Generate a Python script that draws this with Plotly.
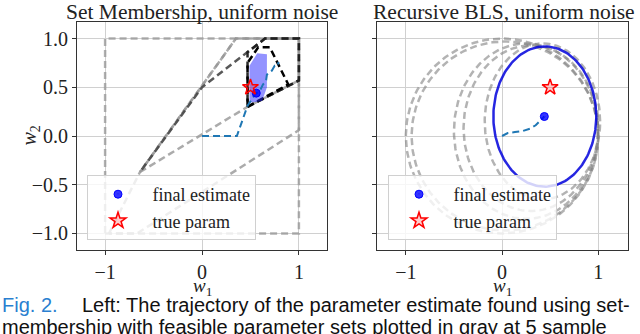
import numpy as np
import plotly.graph_objects as go

# --- left panel: set membership -------------------------------------------
square_x = [-1.0, 1.0, 1.0, -1.0, -1.0]
square_y = [-1.0, -1.0, 1.0, 1.0, -1.0]
set1_x = [-0.96, -0.64, 0.35, 1.0, 1.0, -0.67, -0.96]
set1_y = [-1.0, -0.37, 1.0, 1.0, 0.06, -1.0, -1.0]
set1b_x = [-0.64, 0.47, 1.0, 1.0, 0.35, -0.64]
set1b_y = [-0.37, 0.30, 0.57, 1.0, 1.0, -0.37]
set2_x = [0.47, 1.0, 1.0, 0.65, 0.0, -0.64]        # open boundary, bottom edge shared with set1b
set2_y = [0.30, 0.57, 1.0, 1.0, 0.5, -0.37]
set3_x = [0.47, 1.0, 1.0, 0.65, 0.47, 0.47]
set3_y = [0.30, 0.57, 1.0, 1.0, 0.86, 0.30]
set4_x = [0.47, 0.89, 0.70, 0.58, 0.47, 0.47]
set4_y = [0.30, 0.53, 0.91, 0.91, 0.75, 0.30]
final_set_x = [0.49, 0.62, 0.67, 0.67, 0.57, 0.49, 0.49]
final_set_y = [0.34, 0.36, 0.50, 0.84, 0.85, 0.72, 0.34]
traj_sm_x = [0.0, 0.36, 0.47, 0.52, 0.55, 0.60, 0.63, 0.66, 0.67, 0.72, 0.75, 0.78, 0.79]
traj_sm_y = [0.0, 0.0, 0.31, 0.38, 0.43, 0.47, 0.53, 0.56, 0.63, 0.67, 0.72, 0.72, 0.76]
est_sm = (0.56, 0.44)

# --- right panel: recursive BLS --------------------------------------------
ell_cx = [0.0, 0.03, 0.25, 0.30, 0.42]
ell_cy = [0.0, 0.0, 0.05, 0.08, 0.15]
ell_rx = [1.0, 0.97, 0.75, 0.70, 0.60]
ell_ry = [1.0, 0.97, 0.90, 0.85, 0.80]
final_ell = dict(cx=0.445, cy=0.20, rx=0.535, ry=0.72)
traj_bls_x = [0.0, 0.06, 0.135, 0.21, 0.29, 0.35, 0.40, 0.44]
traj_bls_y = [0.0, 0.03, 0.04, 0.05, 0.075, 0.11, 0.16, 0.20]
est_bls = (0.44, 0.20)

true_param = (0.5, 0.5)

SERIF = "Liberation Serif"
SANS = "Liberation Sans"
DASH = "7px,4px"
W, H = 640, 334


def px_x(p):
    return p / W


def px_y(p):
    return 1 - p / H


def ellipse(cx, cy, rx, ry, n=200):
    t = np.linspace(0, 2 * np.pi, n)
    return cx + rx * np.cos(t), cy + ry * np.sin(t)


fig = go.Figure()

polys = [
    (square_x, square_y, "rgba(150,150,150,0.75)"),
    (set1_x, set1_y, "rgba(150,150,150,0.8)"),
    (set1b_x, set1b_y, "rgba(150,150,150,0.8)"),
    (set2_x, set2_y, "rgba(70,70,70,0.9)"),
    (set3_x, set3_y, "rgba(30,30,30,0.95)"),
    (set4_x, set4_y, "rgba(0,0,0,1)"),
]
for xs, ys, c in polys:
    fig.add_trace(go.Scatter(x=xs, y=ys, mode="lines", line=dict(color=c, width=2.5, dash=DASH),
                             showlegend=False, xaxis="x", yaxis="y"))
fig.add_trace(go.Scatter(x=final_set_x, y=final_set_y, mode="lines", fill="toself",
                         fillcolor="rgba(40,40,255,0.5)", line=dict(width=0),
                         showlegend=False, xaxis="x", yaxis="y"))
fig.add_trace(go.Scatter(x=traj_sm_x, y=traj_sm_y, mode="lines",
                         line=dict(color="#1f77b4", width=2, dash=DASH),
                         showlegend=False, xaxis="x", yaxis="y"))

for cx, cy, rx, ry in zip(ell_cx, ell_cy, ell_rx, ell_ry):
    ex, ey = ellipse(cx, cy, rx, ry)
    fig.add_trace(go.Scatter(x=ex, y=ey, mode="lines",
                             line=dict(color="rgba(128,128,128,0.6)", width=2.5, dash=DASH),
                             showlegend=False, xaxis="x2", yaxis="y2"))
ex, ey = ellipse(**final_ell)
fig.add_trace(go.Scatter(x=ex, y=ey, mode="lines", line=dict(color="rgba(0,0,220,0.85)", width=2.5),
                         showlegend=False, xaxis="x2", yaxis="y2"))
fig.add_trace(go.Scatter(x=traj_bls_x, y=traj_bls_y, mode="lines",
                         line=dict(color="#1f77b4", width=2, dash=DASH),
                         showlegend=False, xaxis="x2", yaxis="y2"))

pad = "\u00a0"
for ax, leg, est in [("", "legend", est_sm), ("2", "legend2", est_bls)]:
    fig.add_trace(go.Scatter(x=[est[0]], y=[est[1]], mode="markers", name=pad + "final estimate",
                             marker=dict(symbol="circle-dot", size=8, color="rgba(0,0,255,0.8)",
                                         line=dict(color="blue", width=1)),
                             legend=leg, xaxis="x" + ax, yaxis="y" + ax))
    fig.add_trace(go.Scatter(x=[true_param[0]], y=[true_param[1]], mode="markers",
                             name=pad + "true param",
                             marker=dict(symbol="star", size=12, color="rgba(255,0,0,0.2)",
                                         line=dict(color="red", width=1.5)),
                             legend=leg, xaxis="x" + ax, yaxis="y" + ax))

axis_common = dict(showline=True, mirror=True, linecolor="#333", linewidth=1,
                   ticks="outside", ticklen=4, tickcolor="#333", showgrid=True,
                   gridcolor="#d0d0d0", gridwidth=1, zeroline=False,
                   tickfont=dict(family=SERIF, size=20, color="#222"))
yrange = [-1.17, 1.17]
ydom = [px_y(250), px_y(22)]
yticks = [-1.0, -0.5, 0.0, 0.5, 1.0]

legend_common = dict(bgcolor="rgba(255,255,255,0.8)", bordercolor="#d0d0d0", borderwidth=1,
                     font=dict(family=SERIF, size=18, color="#222"), xanchor="left",
                     yanchor="top", y=px_y(175), entrywidth=140, itemwidth=50, tracegroupgap=0)

fig.update_layout(
    width=W, height=H,
    margin=dict(l=0, r=0, t=0, b=0),
    paper_bgcolor="white", plot_bgcolor="white",
    xaxis=dict(domain=[px_x(77), px_x(327)], range=[-1.29, 1.29], tickvals=[-1, 0, 1],
               anchor="y", **axis_common),
    yaxis=dict(domain=ydom, range=yrange, tickvals=yticks, tickformat=".1f",
               anchor="x", **axis_common),
    xaxis2=dict(domain=[px_x(377), px_x(628)], range=[-1.30, 1.31], tickvals=[-1, 0, 1],
                anchor="y2", **axis_common),
    yaxis2=dict(domain=ydom, range=yrange, tickvals=yticks, showticklabels=False,
                anchor="x2", **axis_common),
    legend=dict(x=px_x(87), **legend_common),
    legend2=dict(x=px_x(388), **legend_common),
)

ann = [
    ("Set Membership, uniform noise", px_x(202), px_y(12), 21.5),
    ("Recursive BLS, uniform noise", px_x(504), px_y(12), 21.5),
    ("<i>w</i><sub>1</sub>", px_x(202), px_y(287), 19),
    ("<i>w</i><sub>1</sub>", px_x(502), px_y(287), 19),
]
for text, x, y, size in ann:
    fig.add_annotation(text=text, x=x, y=y, xref="paper", yref="paper",
                       showarrow=False, xanchor="center", yanchor="middle",
                       font=dict(family=SERIF, size=size, color="#222"))
fig.add_annotation(text="<i>w</i><sub>2</sub>", x=px_x(15), y=px_y(136), xref="paper", yref="paper",
                   showarrow=False, textangle=-90, font=dict(family=SERIF, size=20, color="#222"))

# caption
fig.add_annotation(text="Fig. 2.", x=px_x(0), y=px_y(305), xref="paper", yref="paper",
                   showarrow=False, xanchor="left", yanchor="middle",
                   font=dict(family=SANS, size=20, color="#2a7fd0"))
fig.add_annotation(text="Left: The trajectory of the parameter estimate found using set-",
                   x=px_x(80), y=px_y(305), xref="paper", yref="paper", showarrow=False,
                   xanchor="left", yanchor="middle",
                   font=dict(family=SANS, size=20, color="#111"))
fig.add_annotation(text="membership with feasible parameter sets plotted in gray at 5 sample",
                   x=px_x(0), y=px_y(327), xref="paper", yref="paper", showarrow=False,
                   xanchor="left", yanchor="middle",
                   font=dict(family=SANS, size=20, color="#111"))

# drop the default 8px body margin so the figure sits at the window origin
fig.write_html("out.html", config={"displayModeBar": False},
               post_script="document.body.style.margin='0px';")
